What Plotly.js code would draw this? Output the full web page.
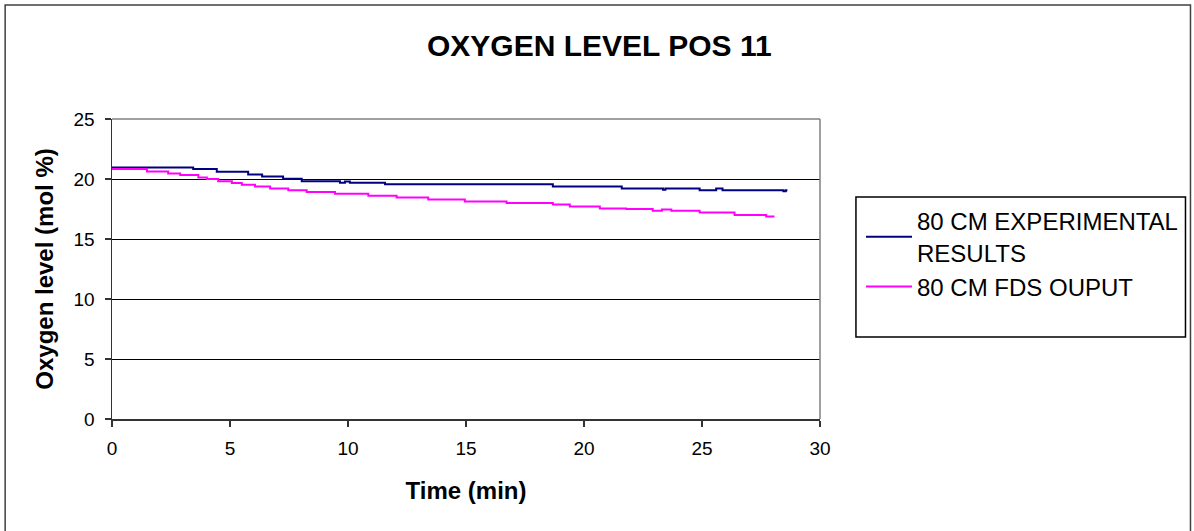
<!DOCTYPE html>
<html>
<head>
<meta charset="utf-8">
<script src="https://cdn.plot.ly/plotly-3.0.1.min.js"></script>
<style>
html,body{margin:0;padding:0;background:#fff;}
#chart{width:1194px;height:531px;}
</style>
</head>
<body>
<div id="chart"></div>
<script>
// Data
const expTime = [0, 3.44, 4.44, 5.77, 6.36, 7.25, 8.04, 9.66, 9.87, 10.08, 11.57, 18.68, 21.6, 23.35, 23.45, 24.9, 25.6, 25.87, 28.45, 28.55, 28.62];
const expO2   = [20.96, 20.83, 20.6, 20.38, 20.21, 20.02, 19.82, 19.68, 19.8, 19.68, 19.57, 19.37, 19.21, 19.1, 19.21, 19.07, 19.21, 19.07, 18.97, 19.07, 19.07];
const fdsTime = [0, 1.48, 2.38, 2.89, 3.66, 4.02, 4.5, 5.08, 5.5, 6.06, 6.7, 7.47, 8.25, 9.45, 10.86, 12.06, 13.4, 14.95, 16.72, 18.68, 19.4, 20.67, 21.79, 22.91, 23.3, 23.7, 24.9, 26.38, 27.72, 28.07];
const fdsO2   = [20.83, 20.63, 20.46, 20.33, 20.13, 19.99, 19.82, 19.66, 19.52, 19.37, 19.21, 19.07, 18.91, 18.77, 18.6, 18.46, 18.29, 18.12, 18.01, 17.87, 17.71, 17.54, 17.49, 17.35, 17.45, 17.35, 17.21, 17.01, 16.87, 16.87];
const seriesNames = ["80 CM EXPERIMENTAL<br>RESULTS", "80 CM FDS OUPUT"];
const xTicks = [0, 5, 10, 15, 20, 25, 30];
const yTicks = [0, 5, 10, 15, 20, 25];

const FONT = "'Liberation Sans', Arial, sans-serif";
const W = 1194, H = 531;
const M = {l: 112, r: 373, t: 119, b: 112};
const PW = W - M.l - M.r, PH = H - M.t - M.b;
const px = x => (x - M.l) / PW;
const py = y => (H - M.b - y) / PH;

const traces = [
  {x: expTime, y: expO2, name: seriesNames[0], type: 'scatter', mode: 'lines',
   line: {color: '#000080', width: 2, shape: 'hv'}},
  {x: fdsTime, y: fdsO2, name: seriesNames[1], type: 'scatter', mode: 'lines',
   line: {color: '#FF00FF', width: 2, shape: 'hv'}}
];

const layout = {
  width: W, height: H,
  margin: M,
  paper_bgcolor: '#fff', plot_bgcolor: '#fff',
  font: {family: FONT, color: '#000'},
  title: {text: '<b>OXYGEN LEVEL POS 11</b>', font: {size: 30, family: FONT, color: '#000'},
          xref: 'paper', x: px(600), xanchor: 'center', yref: 'container', y: 1 - 45 / H, yanchor: 'middle'},
  xaxis: {
    range: [0, 30], tickvals: xTicks, ticktext: xTicks.map(String),
    showgrid: false, zeroline: false,
    showline: true, linecolor: '#333', linewidth: 1.5,
    ticks: 'outside', ticklen: 6, tickcolor: '#333', tickwidth: 1.5,
    tickfont: {size: 19, family: FONT, color: '#000'}, ticklabelstandoff: 6,
    title: {text: '<b>Time (min)</b>', font: {size: 24, family: FONT, color: '#000'}, standoff: 24}
  },
  yaxis: {
    range: [0, 25], tickvals: yTicks, ticktext: yTicks.map(String),
    showgrid: true, gridcolor: '#000', gridwidth: 1, zeroline: false,
    showline: true, linecolor: '#333', linewidth: 1.5,
    ticks: 'outside', ticklen: 6, tickcolor: '#333', tickwidth: 1.5,
    tickfont: {size: 19, family: FONT, color: '#000'}, ticklabelstandoff: 6,
    title: {text: '<b>Oxygen level (mol %)</b>', font: {size: 24, family: FONT, color: '#000'}, standoff: 13}
  },
  showlegend: true,
  legend: {
    x: px(861), y: py(199), xanchor: 'left', yanchor: 'top',
    bgcolor: 'rgba(0,0,0,0)', borderwidth: 0,
    font: {size: 24, family: FONT, color: '#000'},
    itemwidth: 46, tracegroupgap: 3
  },
  shapes: [
    // plot area top and right border (gray)
    {type: 'line', xref: 'paper', yref: 'paper', x0: 0, x1: 1, y0: 1, y1: 1, line: {color: '#808080', width: 1.5}, layer: 'above'},
    {type: 'line', xref: 'paper', yref: 'paper', x0: 1, x1: 1, y0: 0, y1: 1, line: {color: '#808080', width: 1.5}, layer: 'above'},
    // legend box
    {type: 'rect', xref: 'paper', yref: 'paper', x0: px(857), x1: px(1187), y0: py(337), y1: py(197), line: {color: '#000', width: 1.5}, fillcolor: 'rgba(0,0,0,0)'},
    // outer chart frame
    {type: 'rect', xref: 'paper', yref: 'paper', x0: px(5), x1: px(1192), y0: py(540), y1: py(5), line: {color: '#404040', width: 1.5}, fillcolor: 'rgba(0,0,0,0)'}
  ]
};

Plotly.newPlot('chart', traces, layout, {displayModeBar: false, staticPlot: true});
</script>
</body>
</html>
